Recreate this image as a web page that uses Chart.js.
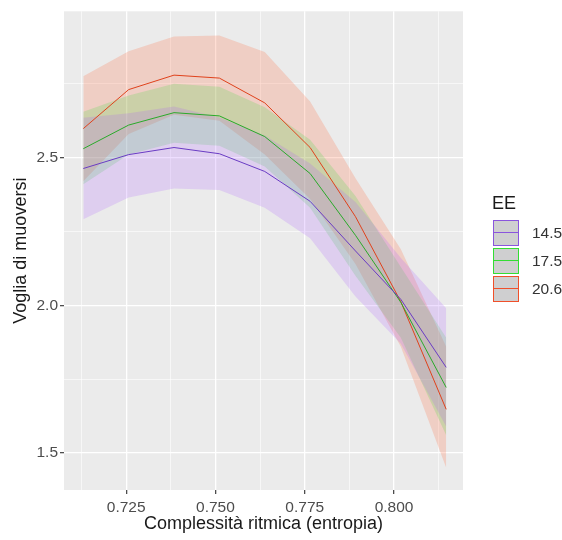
<!DOCTYPE html>
<html>
<head>
<meta charset="utf-8">
<script src="https://cdn.jsdelivr.net/npm/chart.js@4"></script>
<style>
body { margin: 0; background: #fff; }
#wrap { position: relative; width: 562px; height: 540px; }
#legend { position: absolute; left: 493px; top: 193px; font-family: "Liberation Sans", Arial, sans-serif; color: #1a1a1a; }
#legend .title { font-size: 18px; margin-bottom: 5px; margin-left: -1px; }
#legend .row { display: flex; align-items: center; height: 28px; }
#legend .key { position: relative; width: 26px; height: 26px; background: #cfcfd0; box-sizing: border-box; border: 1px solid; }
#legend .key i { position: absolute; left: 0; right: 0; top: 11px; height: 0; border-top: 1px solid; }
#legend .lab { font-size: 15.5px; color: #333; margin-left: 13px; }
</style>
</head>
<body>
<div id="wrap">
<canvas id="chart" width="562" height="540"></canvas>
<div id="legend"></div>
</div>
<script>
// entropy values where the model was evaluated
const xVals = [0.7130, 0.7257, 0.7384, 0.7511, 0.7638, 0.7765, 0.7892, 0.8019, 0.8146];

const groups = ['14.5', '17.5', '20.6'];

const fit145 = [2.463, 2.510, 2.534, 2.513, 2.453, 2.352, 2.184, 2.020, 1.790];
const lo145  = [2.291, 2.365, 2.395, 2.390, 2.330, 2.227, 2.030, 1.870, 1.590];
const hi145  = [2.635, 2.650, 2.673, 2.636, 2.575, 2.480, 2.350, 2.160, 1.990];

const fit175 = [2.530, 2.610, 2.652, 2.641, 2.571, 2.446, 2.237, 2.010, 1.722];
const lo175  = [2.410, 2.510, 2.550, 2.540, 2.470, 2.330, 2.100, 1.890, 1.560];
const hi175  = [2.655, 2.710, 2.750, 2.740, 2.670, 2.560, 2.370, 2.130, 1.890];

const fit206 = [2.598, 2.730, 2.779, 2.769, 2.685, 2.534, 2.300, 2.012, 1.648];
const lo206  = [2.420, 2.580, 2.645, 2.625, 2.510, 2.360, 2.140, 1.860, 1.450];
const hi206  = [2.775, 2.860, 2.910, 2.913, 2.857, 2.690, 2.430, 2.190, 1.860];

const xMajor = [0.725, 0.750, 0.775, 0.800];
const xMinor = [0.7125, 0.7375, 0.7625, 0.7875, 0.8125];
const yMajor = [1.5, 2.0, 2.5];
const yMinor = [1.75, 2.25, 2.75];

const lineColors = ['#6a3cc4', '#2aaa2a', '#e0421c'];
const bandColors = ['rgba(170,90,255,0.2)', 'rgba(60,220,60,0.2)', 'rgba(255,90,40,0.2)'];
const legendColors = ['#8a55dd', '#33dd33', '#f0502a'];

function pts(ys) {
  return ys.map((y, i) => ({ x: xVals[i], y: y }));
}

const fits = [fit145, fit175, fit206];
const los = [lo145, lo175, lo206];
const his = [hi145, hi175, hi206];

let datasets = [];
// lines first so they sit on top
fits.forEach((f, g) => {
  datasets.push({ data: pts(f), borderColor: lineColors[g], borderWidth: 1, pointRadius: 0, fill: false, tension: 0 });
});
fits.forEach((f, g) => {
  datasets.push({ data: pts(his[g]), borderWidth: 0, borderColor: 'transparent', pointRadius: 0, fill: false });
  datasets.push({ data: pts(los[g]), borderWidth: 0, borderColor: 'transparent', pointRadius: 0, fill: '-1', backgroundColor: bandColors[g] });
});

function isIn(list, v) {
  return list.some(m => Math.abs(m - v) < 1e-6);
}

const panelBg = {
  id: 'panelBg',
  beforeDraw(chart) {
    const a = chart.chartArea;
    chart.ctx.save();
    chart.ctx.fillStyle = '#ebebeb';
    chart.ctx.fillRect(a.left, a.top, a.right - a.left, a.bottom - a.top);
    chart.ctx.restore();
  }
};

const font = { family: '"Liberation Sans", Arial, sans-serif' };

new Chart(document.getElementById('chart').getContext('2d'), {
  type: 'line',
  data: { datasets: datasets },
  plugins: [panelBg],
  options: {
    responsive: false,
    animation: false,
    layout: { padding: { left: 0, top: 9, right: 99, bottom: 0 } },
    plugins: { legend: { display: false }, tooltip: { enabled: false } },
    scales: {
      x: {
        type: 'linear',
        min: 0.7076,
        max: 0.8193,
        afterBuildTicks: s => { s.ticks = xMinor.concat(xMajor).sort((a, b) => a - b).map(v => ({ value: v })); },
        afterFit: s => { s.height = 50; },
        border: { display: false },
        grid: {
          color: '#ffffff',
          lineWidth: c => isIn(xMajor, c.tick.value) ? 1.3 : 0.6,
          tickColor: c => isIn(xMajor, c.tick.value) ? '#4d4d4d' : 'rgba(0,0,0,0)',
          tickLength: 4
        },
        ticks: {
          autoSkip: false, maxRotation: 0, padding: 4,
          color: '#4d4d4d', font: Object.assign({ size: 15.5 }, font),
          callback: v => isIn(xMajor, v) ? v.toFixed(3) : ''
        },
        title: { display: true, text: 'Complessità ritmica (entropia)', color: '#1a1a1a', font: Object.assign({ size: 18 }, font), padding: { top: 0, bottom: 5 } }
      },
      y: {
        min: 1.375,
        max: 2.995,
        afterBuildTicks: s => { s.ticks = yMinor.concat(yMajor).sort((a, b) => a - b).map(v => ({ value: v })); },
        afterFit: s => { s.width = 64; },
        border: { display: false },
        grid: {
          color: '#ffffff',
          lineWidth: c => isIn(yMajor, c.tick.value) ? 1.3 : 0.6,
          tickColor: c => isIn(yMajor, c.tick.value) ? '#4d4d4d' : 'rgba(0,0,0,0)',
          tickLength: 4
        },
        ticks: {
          autoSkip: false, padding: 2,
          color: '#4d4d4d', font: Object.assign({ size: 15.5 }, font),
          callback: v => isIn(yMajor, v) ? v.toFixed(1) : ''
        },
        title: { display: true, text: 'Voglia di muoversi', color: '#1a1a1a', font: Object.assign({ size: 18 }, font), padding: { top: 10, bottom: 0 } }
      }
    }
  }
});

// legend in the ggplot style
let lg = '<div class="title">EE</div>';
groups.forEach((g, i) => {
  lg += '<div class="row"><div class="key" style="border-color:' + legendColors[i] + '"><i style="border-top-color:' + legendColors[i] + '"></i></div><span class="lab">' + g + '</span></div>';
});
document.getElementById('legend').innerHTML = lg;
</script>
</body>
</html>
